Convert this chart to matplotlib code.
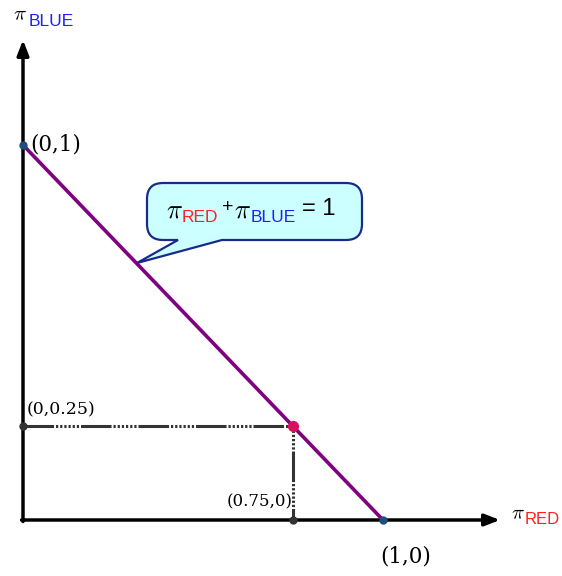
import matplotlib
matplotlib.use("Agg")
import matplotlib.pyplot as plt
from matplotlib.path import Path
from matplotlib.patches import PathPatch

plt.rcParams["lines.scale_dashes"] = False
plt.rcParams["mathtext.fontset"] = "cm"

# Budget line data
line_x = [0.0, 1.0]
line_y = [1.0, 0.0]
chosen = (0.75, 0.25)
intercepts = [(0.0, 1.0), (1.0, 0.0)]
proj_labels = ["(0,0.25)", "(0.75,0)"]
end_labels = ["(0,1)", "(1,0)"]

W, H = 562, 576
fig = plt.figure(figsize=(W / 100, H / 100), dpi=100)
ax = fig.add_axes([0, 0, 1, 1])
ox, oy, sx, sy = 23, 520, 360, 375          # origin and scale in pixels
ax.set_xlim(-ox / sx, (W - ox) / sx)
ax.set_ylim(-(H - oy) / sy, oy / sy)
ax.axis("off")

def px(x, y):
    """pixel (from top-left) to data coordinates"""
    return ((x - ox) / sx, (oy - y) / sy)

# axes with arrows
xend = px(500, 0)[0]
yend = px(0, 40)[1]
ax.annotate("", xy=(xend, 0), xytext=(-0.004, 0),
            arrowprops=dict(arrowstyle="-|>,head_length=0.9,head_width=0.35",
                            lw=2.5, color="black", shrinkA=0, shrinkB=0))
ax.annotate("", xy=(0, yend), xytext=(0, -0.004),
            arrowprops=dict(arrowstyle="-|>,head_length=0.9,head_width=0.35",
                            lw=2.5, color="black", shrinkA=0, shrinkB=0))

# projection lines from the chosen point (long dash followed by dots)
dash = (0, (22, 1.4) + (1.6, 1.4) * 6)
ax.plot([0, chosen[0]], [chosen[1], chosen[1]], color="#333333", lw=2.2,
        linestyle=dash, dash_capstyle="butt", zorder=2)
ax.plot([chosen[0], chosen[0]], [chosen[1], 0], color="#333333", lw=2.2,
        linestyle=(0, (1.6, 1.4) * 6 + (22, 1.4)), dash_capstyle="butt", zorder=2)

# budget line
ax.plot(line_x, line_y, color="#800080", lw=2.6, zorder=3)

# points
ax.plot([p[0] for p in intercepts], [p[1] for p in intercepts], "o",
        color="#1f4f7a", ms=5, zorder=4)
ax.plot([0, chosen[0]], [chosen[1], 0], "o", color="#333333", ms=5, zorder=4)
ax.plot([chosen[0]], [chosen[1]], "o", color="#d6105e", ms=7, zorder=5)

serif = "DejaVu Serif"
sans = "Liberation Sans"
ax.text(*px(30, 145), end_labels[0], fontsize=15.5, family=serif,
        ha="left", va="center")
ax.text(*px(406, 556), end_labels[1], fontsize=15.5, family=serif,
        ha="center", va="center")
ax.text(*px(27, 410), proj_labels[0], fontsize=12.5, family=serif,
        ha="left", va="center")
ax.text(*px(293, 502), proj_labels[1], fontsize=12, family=serif,
        ha="right", va="center")

# axis titles
PI = r"$\pi$"
ax.text(*px(13, 14), PI, fontsize=15, ha="left", va="center")
ax.text(*px(29, 21), "BLUE", fontsize=12.5, color="#2020ff", family=sans,
        ha="left", va="center")
ax.text(*px(511, 513), PI, fontsize=15, ha="left", va="center")
ax.text(*px(525, 520), "RED", fontsize=12, color="#ff2020", family=sans,
        ha="left", va="center")

# speech bubble
L, R, T, B, r = 147, 362, 183, 240, 16
tail_a, tail_b, tip = 178, 222, (137, 263)
verts_px = [
    (L + r, T), (R - r, T), (R, T), (R, T + r), (R, B - r), (R, B), (R - r, B),
    (tail_b, B), tip, (tail_a, B), (L + r, B), (L, B), (L, B - r), (L, T + r),
    (L, T), (L + r, T), (L + r, T),
]
codes = [Path.MOVETO, Path.LINETO, Path.CURVE3, Path.CURVE3, Path.LINETO,
         Path.CURVE3, Path.CURVE3, Path.LINETO, Path.LINETO, Path.LINETO,
         Path.LINETO, Path.CURVE3, Path.CURVE3, Path.LINETO, Path.CURVE3,
         Path.CURVE3, Path.CLOSEPOLY]
bubble = Path([px(*v) for v in verts_px], codes)
ax.add_patch(PathPatch(bubble, facecolor="#ccffff", edgecolor="#1a2a8a",
                       lw=1.6, zorder=6))

ty = 211
ax.text(*px(166, ty), PI, fontsize=19, ha="left", va="center", zorder=7)
ax.text(*px(182, ty + 6), "RED", fontsize=12.5, color="#ff2020",
        family=sans, ha="left", va="center", zorder=7)
ax.text(*px(222, ty - 3), "+", fontsize=14, family=sans,
        ha="left", va="center", zorder=7)
ax.text(*px(234, ty), PI, fontsize=19, ha="left", va="center", zorder=7)
ax.text(*px(251, ty + 6), "BLUE", fontsize=12.5, color="#2020ff",
        family=sans, ha="left", va="center", zorder=7)
ax.text(*px(302, ty - 2), "= 1", fontsize=17, family=sans,
        ha="left", va="center", zorder=7)

fig.savefig("out.png", dpi=100)
